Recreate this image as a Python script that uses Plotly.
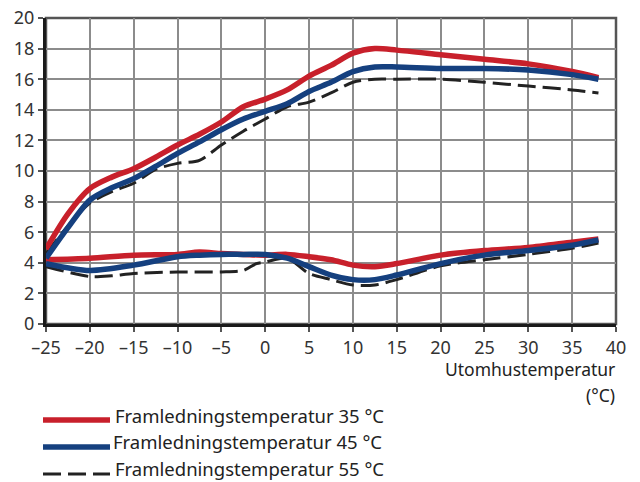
import plotly.graph_objects as go

# --- data ---
x_hi = [-25, -22.5, -20, -17.5, -15, -12.5, -10, -7.5, -5, -2.5, 0, 2.5, 5, 7.5, 10, 12.5, 15, 20, 25, 30, 35, 38]
red_hi = [4.9, 7.2, 8.85, 9.6, 10.15, 10.9, 11.7, 12.4, 13.2, 14.2, 14.7, 15.3, 16.2, 16.9, 17.7, 18.0, 17.9, 17.6, 17.3, 17.0, 16.5, 16.1]
blue_hi = [4.3, 6.3, 8.1, 8.9, 9.5, 10.3, 11.15, 11.9, 12.7, 13.4, 13.9, 14.4, 15.2, 15.8, 16.5, 16.8, 16.8, 16.7, 16.7, 16.6, 16.3, 16.0]
black_hi = [4.6, 6.4, 7.9, 8.65, 9.2, 10.1, 10.5, 10.7, 11.7, 12.6, 13.4, 14.2, 14.5, 15.1, 15.8, 16.0, 16.0, 16.0, 15.8, 15.55, 15.3, 15.1]

x_lo = [-25, -20, -15, -10, -7.5, -5, -2.5, 0, 2.5, 5, 7.5, 10, 12.5, 15, 20, 25, 30, 35, 38]
red_lo = [4.2, 4.3, 4.5, 4.55, 4.7, 4.6, 4.55, 4.5, 4.55, 4.4, 4.2, 3.85, 3.75, 3.95, 4.5, 4.8, 5.0, 5.35, 5.55]
blue_lo = [3.95, 3.5, 3.85, 4.4, 4.5, 4.55, 4.55, 4.55, 4.3, 3.75, 3.2, 2.9, 2.9, 3.2, 3.95, 4.5, 4.8, 5.15, 5.5]
x_lo_b = [-25, -20, -17.5, -15, -10, -5, -2.5, -1, 0, 2.5, 5, 7.5, 10, 12.5, 15, 20, 25, 30, 35, 38]
black_lo = [3.75, 3.1, 3.15, 3.3, 3.4, 3.4, 3.5, 3.95, 4.05, 4.3, 3.3, 2.9, 2.55, 2.55, 2.9, 3.8, 4.2, 4.55, 4.95, 5.3]

x_ticks = list(range(-25, 41, 5))
y_ticks = list(range(0, 21, 2))

legend_labels = ["Framledningstemperatur 35 °C", "Framledningstemperatur 45 °C", "Framledningstemperatur 55 °C"]

RED = "#c8202b"
BLUE = "#15407f"
BLACK = "#222222"
DASH = "18px,7px"
FONT = "Noto Sans"

# page offset: the html body has an 8px margin
L, T, PW, PH = 46, 18, 570, 306

def px_x(p):
    return (p - L) / PW

def px_y(p):
    return (T + PH - p) / PH

fig = go.Figure()

def add_line(x, y, color, width, dash="solid"):
    fig.add_trace(go.Scatter(x=x, y=y, mode="lines", line=dict(color=color, width=width, dash=dash, shape="spline", smoothing=0.8),
                             showlegend=False, hoverinfo="skip"))

add_line(x_lo_b, black_lo, BLACK, 3, DASH)
add_line(x_hi, black_hi, BLACK, 3, DASH)
add_line(x_lo, red_lo, RED, 5.5)
add_line(x_hi, red_hi, RED, 5.5)
add_line(x_lo, blue_lo, BLUE, 5.5)
add_line(x_hi, blue_hi, BLUE, 5.5)

axis_common = dict(showgrid=True, gridcolor="#8c8c8c", gridwidth=1.5, zeroline=False,
                   showline=True, linecolor="#1a1a1a", linewidth=3,
                   ticks="outside", ticklen=5, tickcolor="#555", tickwidth=1.5,
                   ticklabeloverflow="allow", automargin=False,
                   tickfont=dict(family=FONT, size=18, color="#333"))
fig.update_xaxes(range=[-25, 40], tickvals=x_ticks, ticktext=[str(v).replace("-", "–") for v in x_ticks], **axis_common)
fig.update_yaxes(range=[0, 20], tickvals=y_ticks, **axis_common)

# top/right frame
fig.add_shape(type="rect", xref="paper", yref="paper", x0=0, y0=0, x1=1, y1=1,
              line=dict(color="#555555", width=2.5), layer="below")

# axis title
fig.add_annotation(xref="paper", yref="paper", x=px_x(617), y=px_y(369), xanchor="right", yanchor="middle",
                   text="Utomhustemperatur", showarrow=False, font=dict(family=FONT, size=17.5, color="#222"))
fig.add_annotation(xref="paper", yref="paper", x=px_x(617), y=px_y(395), xanchor="right", yanchor="middle",
                   text="(°C)", showarrow=False, font=dict(family=FONT, size=17.5, color="#222"))

# manual legend with long line samples
legend_styles = [(RED, 5.5, "solid"), (BLUE, 5.5, "solid"), (BLACK, 3, DASH)]
line_rows = [420, 447, 474]
text_rows = [415, 441, 468]
text_x = [113, 111, 113]
for lab, (col, w, d), ly, ty, tx in zip(legend_labels, legend_styles, line_rows, text_rows, text_x):
    fig.add_shape(type="line", xref="paper", yref="paper", x0=px_x(43), x1=px_x(110),
                  y0=px_y(ly), y1=px_y(ly), line=dict(color=col, width=w, dash=d))
    fig.add_annotation(xref="paper", yref="paper", x=px_x(tx), y=px_y(ty), xanchor="left", yanchor="middle",
                       text=lab, showarrow=False, font=dict(family=FONT, size=18.5, color="#222"))

fig.update_layout(width=632, height=474, margin=dict(l=L - 8, r=24, t=T - 8, b=158, autoexpand=False),
                  plot_bgcolor="white", paper_bgcolor="white", showlegend=False)

fig.write_html("out.html")
